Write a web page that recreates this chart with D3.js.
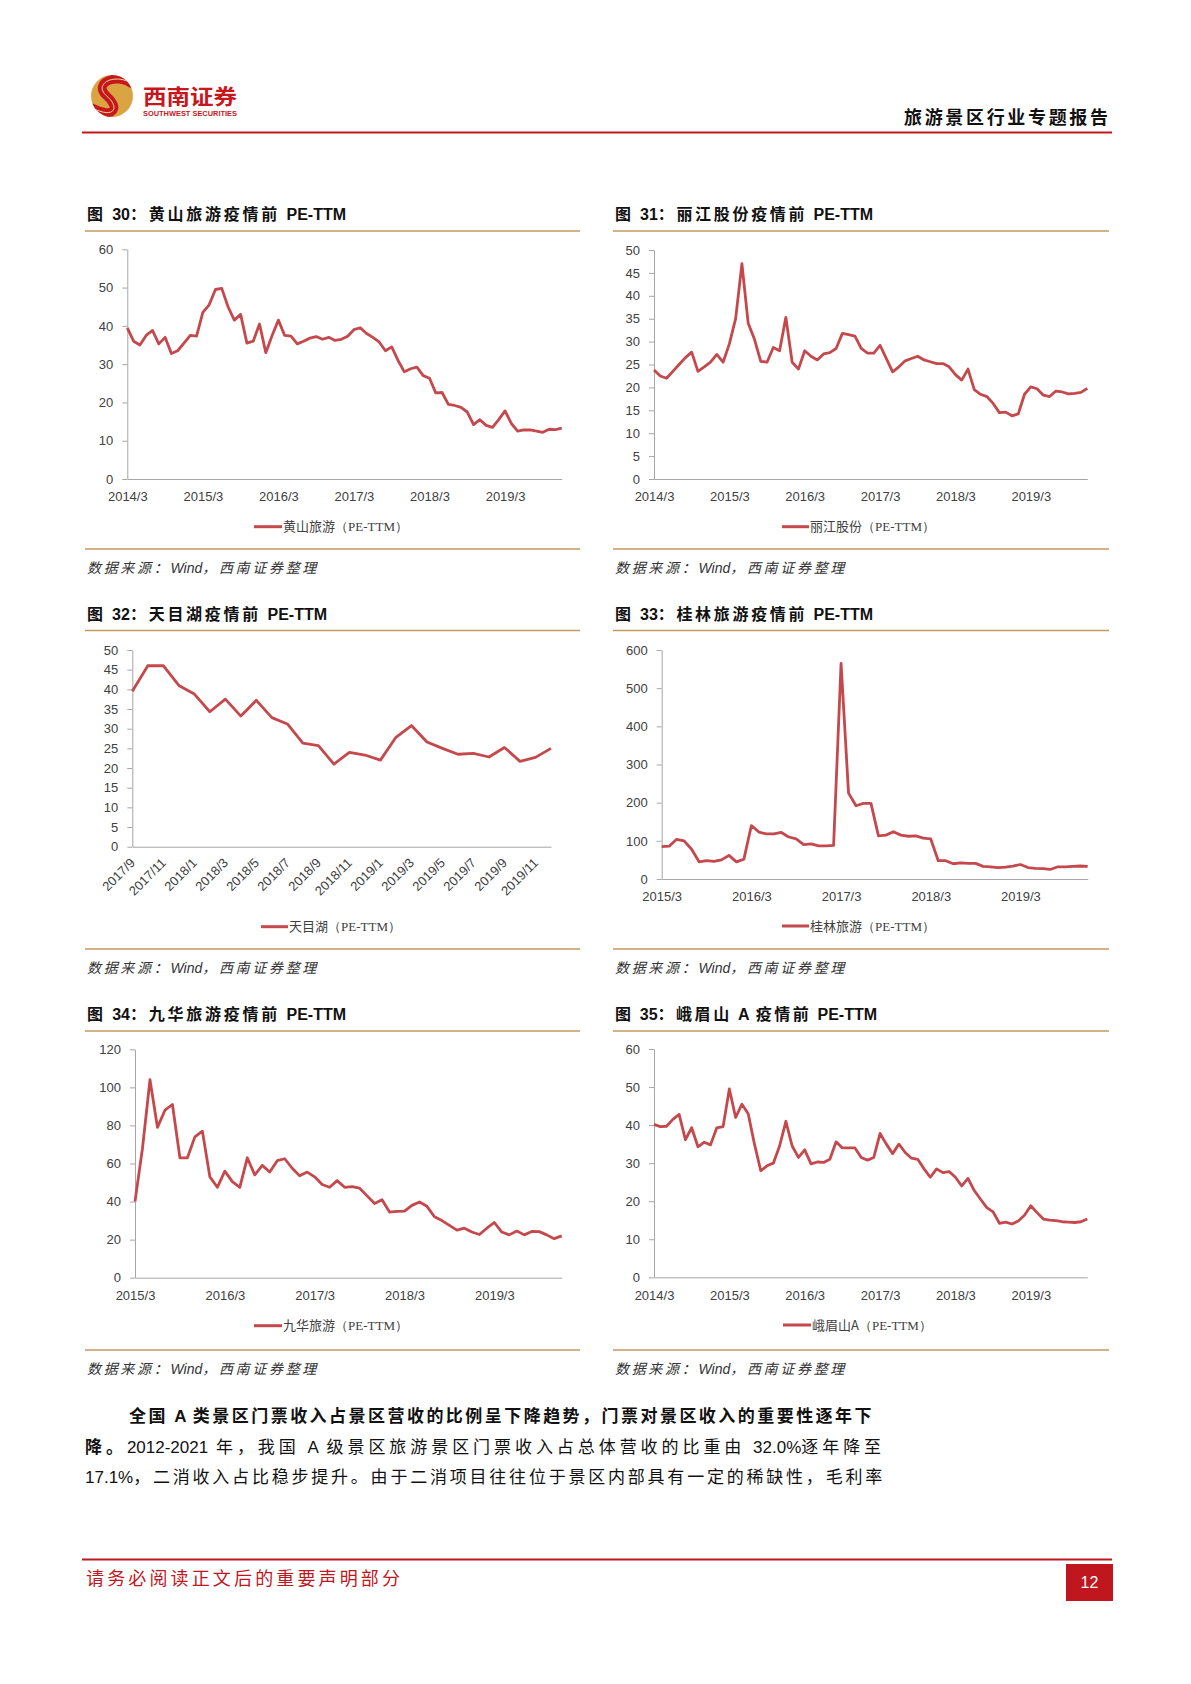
<!DOCTYPE html>
<html><head><meta charset="utf-8">
<script src="https://cdn.jsdelivr.net/npm/d3@7"></script>
<style>body{margin:0;background:#fff}svg{display:block}</style>
</head><body>
<svg id="page" width="1191" height="1684"></svg>
<script>
// ---------------- DATA ----------------
function monthSeq(y, m, n) { // category labels only
  const out = [];
  for (let i = 0; i < n; i++) { out.push(y + "/" + m); m++; if (m > 12) { m = 1; y++; } }
  return out;
}
const months2014 = monthSeq(2014, 3, 70);   // 2014/3 - 2019/12
const months2015 = monthSeq(2015, 3, 58);   // 2015/3 - 2019/12
const monthsTmh = ["2017/9","2017/10","2017/11","2017/12","2018/1","2018/2","2018/3","2018/4","2018/5","2018/6","2018/7","2018/8","2018/9","2018/10","2018/11","2018/12","2019/1","2019/2","2019/3","2019/4","2019/5","2019/6","2019/7","2019/8","2019/9","2019/10","2019/11","2019/12"];

const xTicks2014 = ["2014/3","2015/3","2016/3","2017/3","2018/3","2019/3"];
const xTicks2015 = ["2015/3","2016/3","2017/3","2018/3","2019/3"];
const xTicksTmh = ["2017/9","2017/11","2018/1","2018/3","2018/5","2018/7","2018/9","2018/11","2019/1","2019/3","2019/5","2019/7","2019/9","2019/11"];

const yTicks60 = [0,10,20,30,40,50,60];
const yTicks50 = [0,5,10,15,20,25,30,35,40,45,50];
const yTicks600 = [0,100,200,300,400,500,600];
const yTicks120 = [0,20,40,60,80,100,120];

const huangshan = [39.5,36,35,37.5,38.8,35.3,37,32.8,33.5,35.5,37.5,37.3,43.5,45.5,49.5,49.8,45,41.5,43,35.5,36,40.5,33,37.5,41.5,37.5,37.3,35.3,36,36.8,37.2,36.5,37,36.2,36.5,37.3,39,39.5,38,37,35.8,33.5,34.5,31,28,28.8,29.2,27,26.3,22.5,22.6,19.5,19.2,18.7,17.5,14.2,15.5,14,13.5,15.5,17.8,14.5,12.5,12.8,12.8,12.5,12.2,13,12.9,13.3];
const lijiang = [23.8,22.5,22,23.5,25,26.5,27.7,23.5,24.5,25.5,27.2,25.5,29.5,35,47,34,30.5,25.7,25.5,28.7,28,35.3,25.5,24,28,26.8,26,27.3,27.6,28.5,31.8,31.5,31.2,28.5,27.5,27.5,29.2,26.3,23.4,24.5,25.8,26.3,26.8,26,25.6,25.2,25.2,24.5,22.8,21.6,24,19.5,18.5,18,16.5,14.5,14.6,13.8,14.2,18.5,20.1,19.7,18.3,18,19.2,19,18.6,18.7,18.9,19.8];
const tianmuhu = [39.5,46,46,41,38.8,34.3,37.5,33.2,37.2,32.8,31.2,26.3,25.7,21,24,23.3,22,27.8,30.8,26.6,25,23.5,23.7,22.8,25.2,21.7,22.7,25];
const guilin = [85,86,104,100,78,45,48,46,50,62,45,52,140,123,118,118,122,110,105,90,92,87,87,88,565,225,192,198,198,113,115,124,115,112,113,107,105,48,48,40,42,41,41,33,32,30,31,34,38,30,28,27,25,32,32,33,34,33];
const jiuhua = [40,68,104,79,88,91,63,63,74,77,53,47.5,56,50.5,47.5,63,54,59,55.5,61.5,62.5,57.5,53.5,55.5,53,49,47.5,51,47.5,47.8,47,43,39,41,34.5,34.8,35,38,39.8,37.5,32,30,27.5,25,26,24,22.7,26,29,24,22.5,24.5,22.5,24.3,24.2,22.5,20.5,22];
const emeishan = [40.2,39.6,39.7,41.5,42.8,36.2,39.3,34.3,35.5,34.8,39.3,39.6,49.5,42,45.5,43,35,28,29.3,30,34.5,41,34.5,31.5,33.5,29.8,30.3,30.2,31,35.6,34,34,34,31.5,30.8,31.5,37.8,35,32.5,35,32.8,31.3,31,28.5,26.3,28.5,27.5,27.8,26.3,24,26,22.8,20.5,18.3,17.2,14.2,14.5,14,14.8,16.3,18.8,17,15.3,15,14.9,14.6,14.5,14.4,14.6,15.3];

const titles = ["图 30：黄山旅游疫情前 PE-TTM","图 31：丽江股份疫情前 PE-TTM","图 32：天目湖疫情前 PE-TTM","图 33：桂林旅游疫情前 PE-TTM","图 34：九华旅游疫情前 PE-TTM","图 35：峨眉山 A 疫情前 PE-TTM"];
const seriesNames = ["黄山旅游","丽江股份","天目湖","桂林旅游","九华旅游","峨眉山A"];
const sourceText = "数据来源：Wind，西南证券整理";

// ---------------- STYLE ----------------
const RED = "#c0161e", GOLD = "#c49a5d", LINE = "#c5484c", AXIS = "#a6a6a6", TXT = "#404040";
const SANS = "'Liberation Sans', Arial, 'Noto Sans CJK SC', sans-serif";
const CJK = "'Noto Sans CJK SC', sans-serif";

const svg = d3.select("#page");
svg.append("rect").attr("width",1191).attr("height",1684).attr("fill","#fff");

// Text with letter-spacing only on CJK runs (and spaces), stretched to a target width
const CJK_RE = /[\u3000-\u303f\u4e00-\u9fff\uff00-\uffef ]+|[^\u3000-\u303f\u4e00-\u9fff\uff00-\uffef ]+/g;
const isSpaced = ch => /[\u3000-\u303f\u4e00-\u9fff\uff00-\uffef ]/.test(ch);
function richText(parent, x, y, segments, target, attrs) {
  const t = parent.append("text").attr("x", x).attr("y", y).attr("xml:space","preserve");
  Object.entries(attrs || {}).forEach(([k, v]) => t.attr(k, v));
  const cjkSpans = []; let nCJK = 0;
  segments.forEach(seg => {
    const runs = seg.t.match(CJK_RE) || [];
    runs.forEach(run => {
      const sp = t.append("tspan").text(run);
      if (seg.bold) sp.attr("font-weight", 700);
      if (isSpaced(run[0])) { sp.attr("font-family", CJK); cjkSpans.push(sp); nCJK += run.length; }
    });
  });
  if (target && nCJK) {
    const len = t.node().getComputedTextLength();
    const ls = (target - len) / nCJK;
    cjkSpans.forEach(sp => sp.attr("letter-spacing", ls));
  }
  return t;
}

// ---------------- HEADER ----------------
(function header(){
  const cx = 112, cy = 96, r = 21;
  const defs = svg.append("defs");
  defs.append("clipPath").attr("id","logoClip").append("circle").attr("cx",cx).attr("cy",cy).attr("r",r);
  svg.append("circle").attr("cx",cx).attr("cy",cy).attr("r",r).attr("fill","#d9a441");
  const lg = svg.append("g").attr("clip-path","url(#logoClip)");
  const sPath = `M${cx+r},${cy-0.55*r} C${cx+0.2*r},${cy-1.15*r} ${cx-0.95*r},${cy-0.6*r} ${cx-0.25*r},${cy} C${cx+0.35*r},${cy+0.5*r} ${cx+0.2*r},${cy+1.15*r} ${cx-r},${cy+0.55*r}`;
  lg.append("path").attr("d",sPath).attr("fill","none").attr("stroke","#c8161d").attr("stroke-width",0.42*r);
  lg.append("path").attr("d",sPath).attr("fill","none").attr("stroke","#f0d9a0").attr("stroke-width",1);
  svg.append("text").attr("x",143).attr("y",104).attr("textLength",94).attr("lengthAdjust","spacingAndGlyphs")
    .attr("font-family",CJK).attr("font-weight",700).attr("font-size",21).attr("fill","#c8161d").text("西南证券");
  svg.append("text").attr("x",143).attr("y",116).attr("textLength",94).attr("lengthAdjust","spacingAndGlyphs")
    .attr("font-family",SANS).attr("font-weight",700).attr("font-size",7).attr("fill","#c8161d").text("SOUTHWEST SECURITIES");
  svg.append("text").attr("x",1108).attr("y",124).attr("text-anchor","end").attr("textLength",204).attr("lengthAdjust","spacing")
    .attr("font-family",CJK).attr("font-weight",700).attr("font-size",18).attr("fill","#111").text("旅游景区行业专题报告");
  svg.append("line").attr("x1",82).attr("x2",1112).attr("y1",132.5).attr("y2",132.5).attr("stroke",RED).attr("stroke-width",2);
})();

// ---------------- CHARTS ----------------
const panels = [
  {title:titles[0], name:seriesNames[0], cats:months2014, vals:huangshan, xTicks:xTicks2014, yTicks:yTicks60, yMax:60,
   col:0, row:0, x0:127.3, x1:561.7, yb:479, yt:249.3, lg:[254,282,526.7]},
  {title:titles[1], name:seriesNames[1], cats:months2014, vals:lijiang, xTicks:xTicks2014, yTicks:yTicks50, yMax:50,
   col:1, row:0, x0:654, x1:1087.3, yb:479, yt:250, lg:[782,809,526.7]},
  {title:titles[2], name:seriesNames[2], cats:monthsTmh, vals:tianmuhu, xTicks:xTicksTmh, yTicks:yTicks50, yMax:50, rot:true,
   col:0, row:1, x0:132.3, x1:551, yb:846.7, yt:650, lg:[261,288,926.7]},
  {title:titles[3], name:seriesNames[3], cats:months2015, vals:guilin, xTicks:xTicks2015, yTicks:yTicks600, yMax:600,
   col:1, row:1, x0:661.7, x1:1087.7, yb:879, yt:650, lg:[782,809,926]},
  {title:titles[4], name:seriesNames[4], cats:months2015, vals:jiuhua, xTicks:xTicks2015, yTicks:yTicks120, yMax:120,
   col:0, row:2, x0:135, x1:561.7, yb:1277.7, yt:1049.3, lg:[254,282,1325.7]},
  {title:titles[5], name:seriesNames[5], cats:months2014, vals:emeishan, xTicks:xTicks2014, yTicks:yTicks60, yMax:60,
   col:1, row:2, x0:654, x1:1087.3, yb:1277.3, yt:1049, lg:[783,811,1325]}
];
const colX = [[85,580],[613,1109]];
const rowY = [{t:219.5, top:231, bot:549, src:573},{t:619.5, top:630.5, bot:949, src:973},{t:1020, top:1031, bot:1350, src:1374}];
const titleW = [259,258,240,258,259,262];

panels.forEach((p, k) => {
  const g = svg.append("g");
  const [cl, cr] = colX[p.col], R = rowY[p.row];
  const tx = cl + 2;
  richText(g, tx, R.t, [{t:p.title, bold:true}], titleW[k],
    {"font-family":SANS, "font-weight":700, "font-size":16, "fill":"#111"});
  g.append("line").attr("x1",cl).attr("x2",cr).attr("y1",R.top).attr("y2",R.top).attr("stroke",GOLD).attr("stroke-width",1.6);
  g.append("line").attr("x1",cl).attr("x2",cr).attr("y1",R.bot).attr("y2",R.bot).attr("stroke",GOLD).attr("stroke-width",1.6);
  richText(g, tx, R.src, [{t:sourceText}], 232,
    {"font-family":SANS, "font-style":"italic", "font-size":14, "fill":"#333"});

  const x = d3.scalePoint().domain(p.cats).range([p.x0, p.x1]).padding(0);
  const y = d3.scaleLinear().domain([0, p.yMax]).range([p.yb, p.yt]);

  const ya = g.append("g").attr("transform",`translate(${p.x0},0)`)
    .call(d3.axisLeft(y).tickValues(p.yTicks).tickSize(5).tickSizeOuter(0).tickPadding(9));
  ya.select(".domain").attr("stroke",AXIS);
  ya.selectAll(".tick line").attr("stroke",AXIS);
  ya.selectAll("text").attr("font-family",SANS).attr("font-size",13).attr("fill",TXT);

  const xa = g.append("g").attr("transform",`translate(0,${p.yb})`)
    .call(d3.axisBottom(x).tickValues(p.xTicks).tickSize(0).tickSizeOuter(0).tickPadding(13));
  xa.select(".domain").attr("stroke",AXIS);
  xa.selectAll("text").attr("font-family",SANS).attr("font-size",13).attr("fill",TXT);
  if (p.rot) {
    xa.selectAll("text").attr("x",0).attr("y",0).attr("dy",0).attr("text-anchor","end")
      .attr("transform","translate(3,17) rotate(-45)");
  }

  const line = d3.line().x((d,i) => x(p.cats[i])).y(d => y(d));
  g.append("path").datum(p.vals).attr("d",line).attr("fill","none").attr("stroke",LINE)
    .attr("stroke-width",2.8).attr("stroke-linejoin","round");

  const [l0,l1,ly] = p.lg;
  g.append("line").attr("x1",l0).attr("x2",l1).attr("y1",ly).attr("y2",ly).attr("stroke",LINE).attr("stroke-width",3);
  const lt = g.append("text").attr("x",l1+1).attr("y",ly+4.5).attr("font-size",13).attr("fill",TXT);
  lt.append("tspan").attr("font-family",CJK).text(p.name);
  lt.append("tspan").attr("font-family","'Liberation Serif', 'Times New Roman', serif").text("（PE-TTM）");
});

// ---------------- BODY TEXT ----------------
const body = svg.append("g").attr("font-size",17).attr("fill","#111");
richText(body, 129, 1422, [{t:"全国 A 类景区门票收入占景区营收的比例呈下降趋势，门票对景区收入的重要性逐年下", bold:true}], 745,
  {"font-family":SANS, "font-size":17, "font-weight":700});
richText(body, 85, 1453, [{t:"降。", bold:true},{t:"2012-2021 年，我国 A 级景区旅游景区门票收入占总体营收的比重由 32.0%逐年降至"}], 800,
  {"font-family":SANS, "font-size":17});
richText(body, 85, 1483, [{t:"17.1%，二消收入占比稳步提升。由于二消项目往往位于景区内部具有一定的稀缺性，毛利率"}], 800,
  {"font-family":SANS, "font-size":17});

// ---------------- FOOTER ----------------
svg.append("line").attr("x1",82).attr("x2",1112).attr("y1",1559.5).attr("y2",1559.5).attr("stroke",RED).attr("stroke-width",2);
svg.append("text").attr("x",86).attr("y",1585).attr("font-family",CJK).attr("font-size",18).attr("fill",RED)
  .attr("textLength",314).attr("lengthAdjust","spacing").text("请务必阅读正文后的重要声明部分");
svg.append("rect").attr("x",1066).attr("y",1564).attr("width",47).attr("height",37).attr("fill",RED);
svg.append("text").attr("x",1089.5).attr("y",1588).attr("text-anchor","middle").attr("font-family",SANS)
  .attr("font-size",16).attr("fill","#fff").text("12");
</script>
</body></html>
